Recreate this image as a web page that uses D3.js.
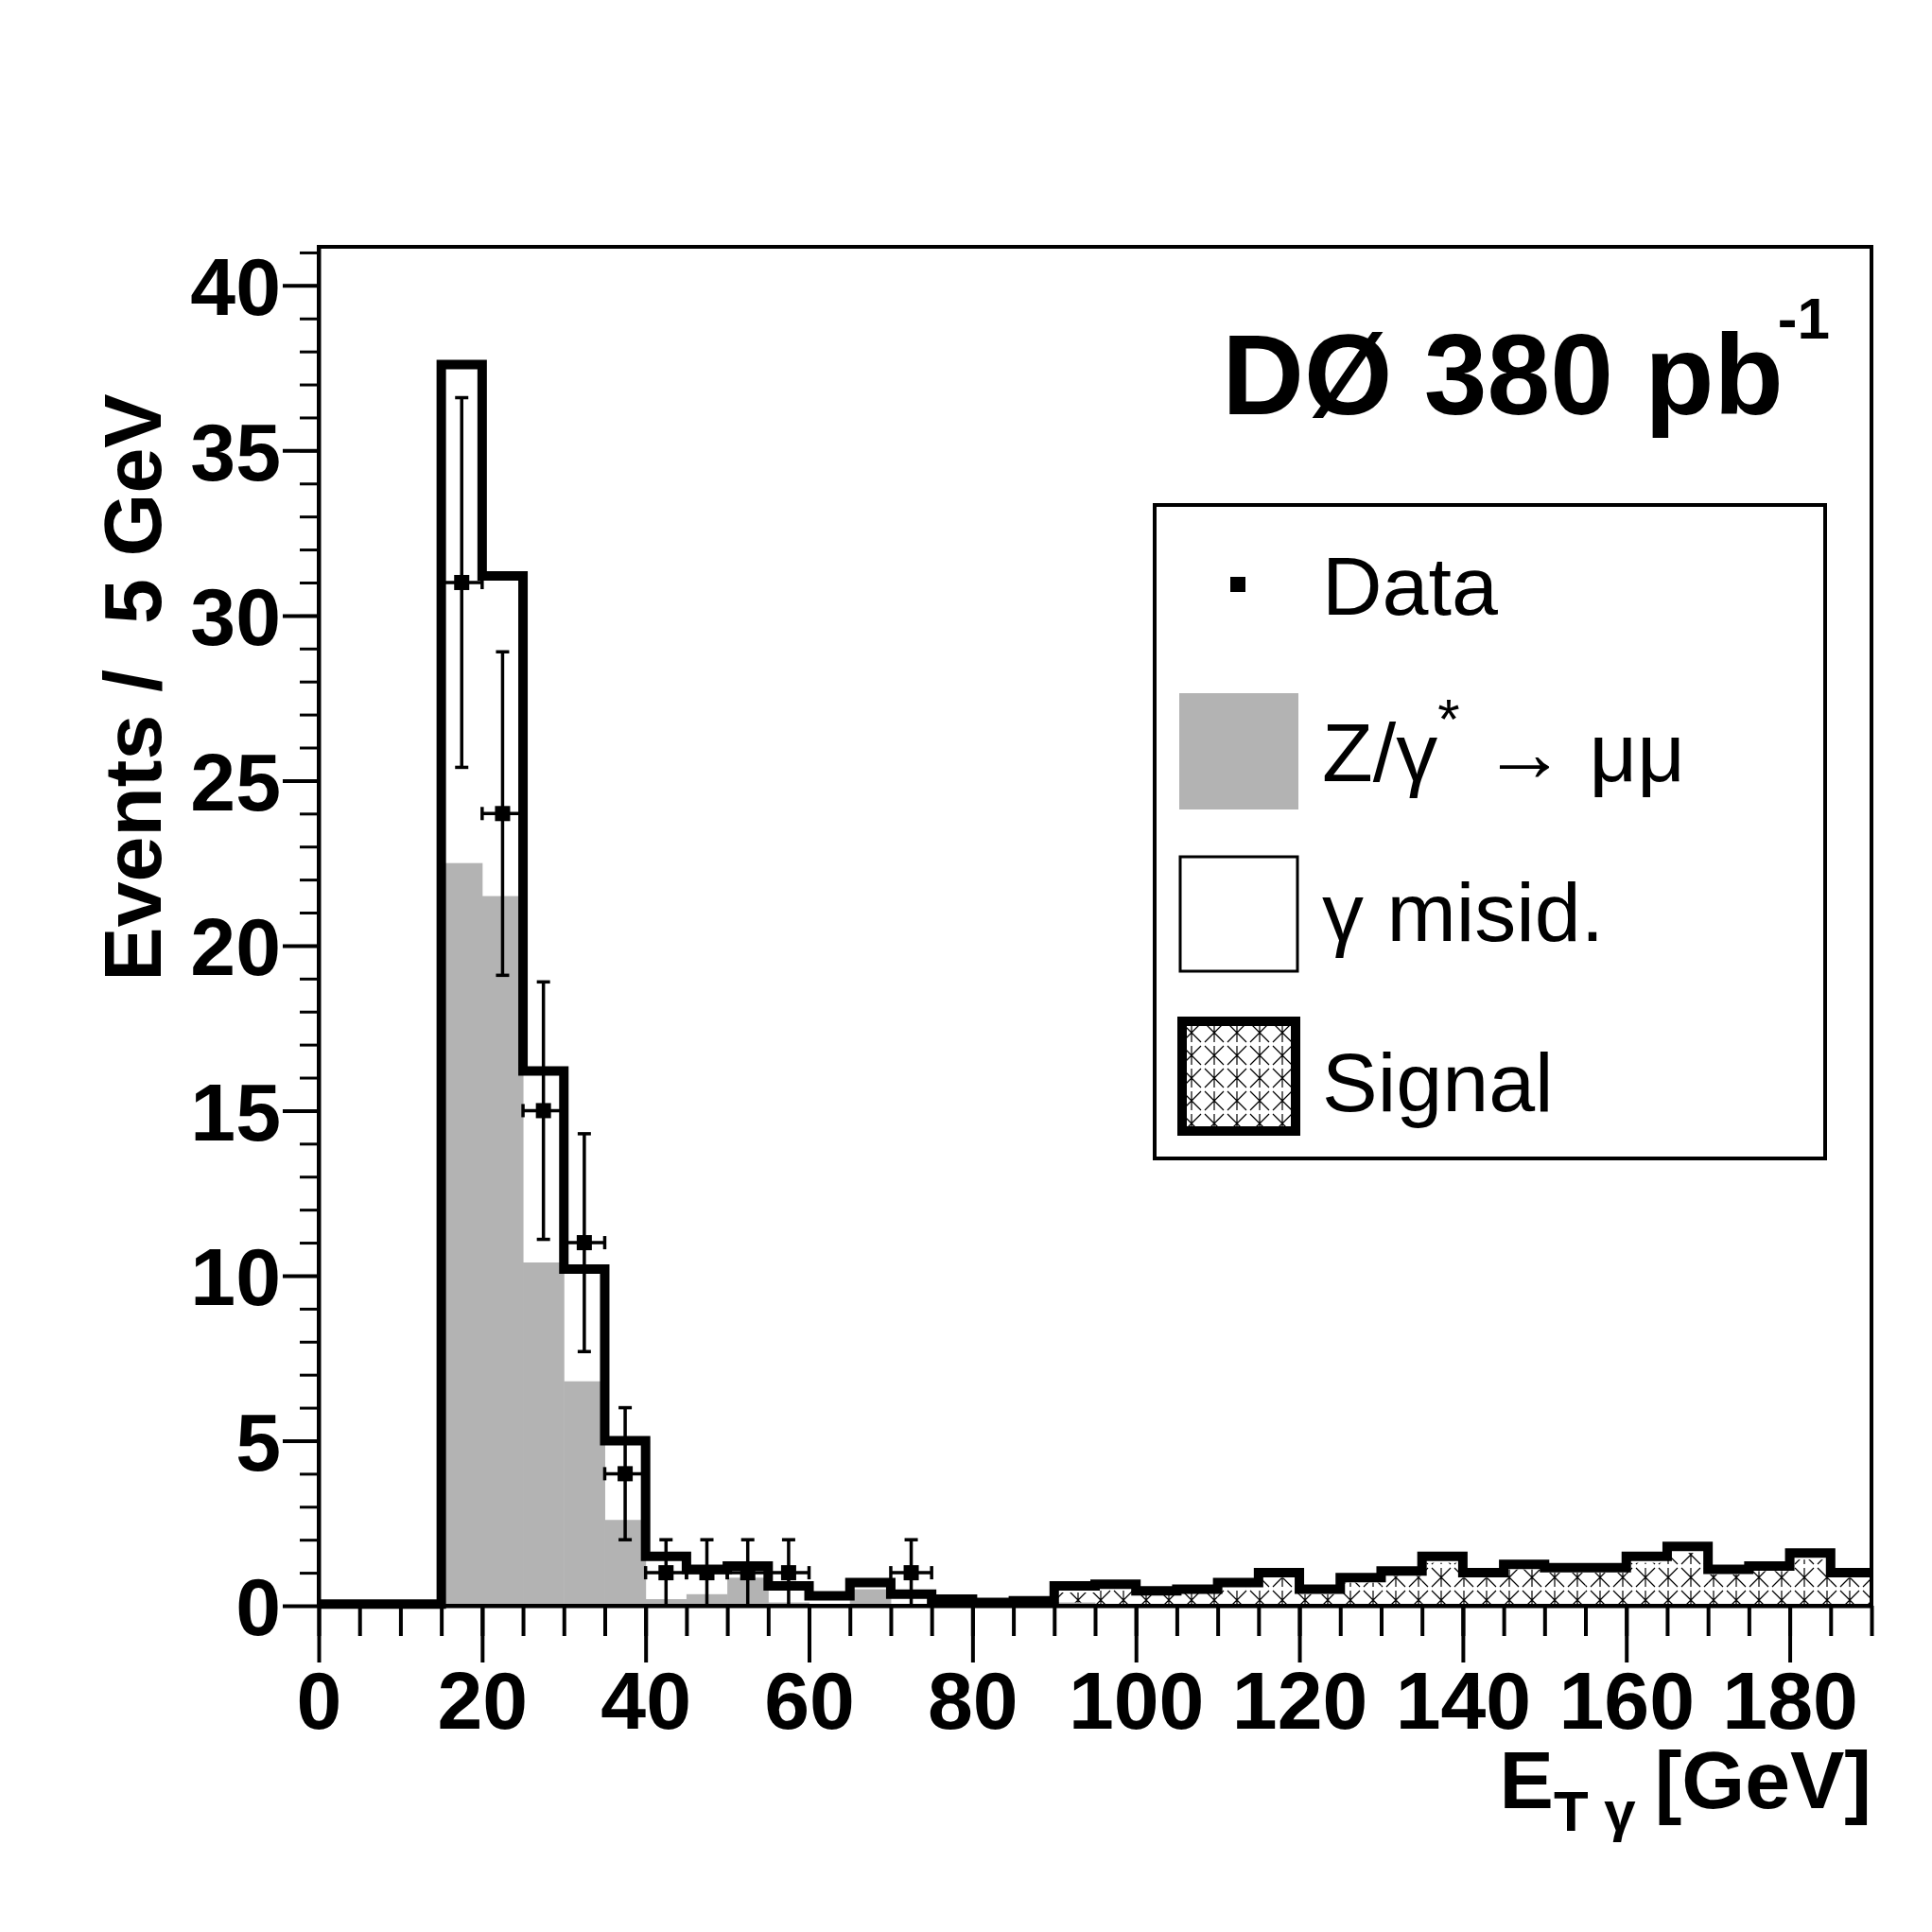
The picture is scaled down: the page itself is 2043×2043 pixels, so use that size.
<!DOCTYPE html>
<html><head><meta charset="utf-8">
<script src="https://cdn.jsdelivr.net/npm/d3@7"></script>
<style>body{margin:0;background:#fff}</style>
</head><body>
<script>
// Bin edges every 5 GeV from 0 to 190
const binLow = d3.range(0, 190, 5);
// Stack total (outline)
const total = [0.05,0.05,0.05,37.6,31.2,16.2,10.2,5.0,1.5,1.1,1.2,0.6,0.3,0.7,0.35,0.2,0.1,0.15,
  0.6,0.65,0.45,0.5,0.7,1.0,0.5,0.85,1.05,1.5,1.0,1.25,1.15,1.15,1.5,1.8,1.1,1.2,1.6,1.0];
// Z/gamma* -> mumu
const zmm = [0,0,0,22.5,21.5,10.4,6.8,2.6,0.2,0.35,0.85,0.1,0.05,0.5,0.05,0,0,0,
  0.1,0,0,0,0,0,0,0,0,0,0,0,0,0,0,0,0,0,0,0];
// signal part (hatched), rest is gamma misid
const signal = [0,0,0,0,0,0,0,0,0,0,0,0,0,0,0,0,0,0,
  0.4,0.55,0.35,0.4,0.55,0.85,0.35,0.7,0.9,1.3,0.85,1.1,1.0,1.0,1.3,1.6,0.95,1.05,1.4,0.85];
// Data points
const dataX = [17.5,22.5,27.5,32.5,37.5,42.5,47.5,52.5,57.5,72.5];
const dataY = [31,24,15,11,4,1,1,1,1,1];
const dataHi = [36.6,28.9,18.9,14.3,6.0,2.0,2.0,2.0,2.0,2.0];
const dataLo = [25.4,19.1,11.1,7.7,2.0,0,0,0,0,0];
const xTicks = d3.range(0, 181, 20);
const yTicks = d3.range(0, 41, 5);

const W = 2043, H = 2043;
const L = 337, R = 1979, T = 261, B = 1698;
const svg = d3.select('body').append('svg').attr('width', W).attr('height', H);
const x = d3.scaleLinear().domain([0, 190]).range([L, R]);
const y = d3.scaleLinear().domain([0, 41.17]).range([B, T]);
const font = 'Liberation Sans, Arial, sans-serif';

// hatch pattern for signal
const defs = svg.append('defs');
const pat = defs.append('pattern').attr('id', 'hatch').attr('patternUnits', 'userSpaceOnUse')
  .attr('width', 24).attr('height', 24);
pat.append('rect').attr('width', 24).attr('height', 24).attr('fill', '#fff');
pat.append('path').attr('d', 'M2,2 L22,22 M22,2 L2,22 M12,2 L12,22').attr('stroke', '#000').attr('stroke-width', 1.2);

const bins = binLow.map((b, i) => ({x0: b, x1: b + 5, t: total[i], z: zmm[i], s: signal[i]}));

// misid (white) fill under total
svg.append('g').selectAll('rect').data(bins).join('rect')
  .attr('x', d => x(d.x0)).attr('width', d => x(d.x1) - x(d.x0))
  .attr('y', d => y(d.t)).attr('height', d => y(0) - y(d.t)).attr('fill', '#fff');
// signal hatch
svg.append('g').selectAll('rect').data(bins.filter(d => d.s > 0)).join('rect')
  .attr('x', d => x(d.x0)).attr('width', d => x(d.x1) - x(d.x0))
  .attr('y', d => y(d.s)).attr('height', d => y(0) - y(d.s)).attr('fill', 'url(#hatch)');
// Z gray
svg.append('g').selectAll('rect').data(bins.filter(d => d.z > 0)).join('rect')
  .attr('x', d => x(d.x0)).attr('width', d => x(d.x1) - x(d.x0) + 0.5)
  .attr('y', d => y(d.z)).attr('height', d => y(0) - y(d.z)).attr('fill', '#b3b3b3');

// total outline (step)
let pts = [[x(0), y(total[0])]];
bins.forEach(d => { pts.push([x(d.x0), y(d.t)]); pts.push([x(d.x1), y(d.t)]); });
svg.append('path').attr('d', d3.line()(pts)).attr('fill', 'none')
  .attr('stroke', '#000').attr('stroke-width', 10).attr('stroke-linejoin', 'miter');
// thin edge at 15 GeV
svg.append('line').attr('x1', x(15)).attr('x2', x(15)).attr('y1', y(0)).attr('y2', y(total[3]))
  .attr('stroke', '#000').attr('stroke-width', 4);

// data points
const g = svg.append('g');
dataX.forEach((dx, i) => {
  g.append('line').attr('x1', x(dx)).attr('x2', x(dx)).attr('y1', y(dataLo[i])).attr('y2', y(dataHi[i]))
    .attr('stroke', '#000').attr('stroke-width', 3.5);
  g.append('line').attr('x1', x(dx) - 7).attr('x2', x(dx) + 7).attr('y1', y(dataHi[i])).attr('y2', y(dataHi[i]))
    .attr('stroke', '#000').attr('stroke-width', 3.5);
  if (dataLo[i] > 0) g.append('line').attr('x1', x(dx) - 7).attr('x2', x(dx) + 7).attr('y1', y(dataLo[i])).attr('y2', y(dataLo[i]))
    .attr('stroke', '#000').attr('stroke-width', 3.5);
  g.append('line').attr('x1', x(dx - 2.5)).attr('x2', x(dx + 2.5)).attr('y1', y(dataY[i])).attr('y2', y(dataY[i]))
    .attr('stroke', '#000').attr('stroke-width', 3.5);
  [dx - 2.5, dx + 2.5].forEach(e => g.append('line').attr('x1', x(e)).attr('x2', x(e))
    .attr('y1', y(dataY[i]) - 7).attr('y2', y(dataY[i]) + 7).attr('stroke', '#000').attr('stroke-width', 3.5));
  g.append('rect').attr('x', x(dx) - 8).attr('y', y(dataY[i]) - 8).attr('width', 16).attr('height', 16).attr('fill', '#000');
});

// frame
svg.append('rect').attr('x', L).attr('y', T).attr('width', R - L).attr('height', B - T)
  .attr('fill', 'none').attr('stroke', '#000').attr('stroke-width', 4);

// axes
const xAxis = svg.append('g').attr('transform', `translate(0,${B})`)
  .call(d3.axisBottom(x).tickValues(xTicks).tickSize(60).tickSizeOuter(0).tickPadding(8));
xAxis.selectAll('line').attr('stroke-width', 4);
xAxis.select('.domain').attr('stroke-width', 4);
xAxis.selectAll('text').attr('font-family', font).attr('font-weight', 'bold').attr('font-size', 86).attr('dy', '0.72em');
svg.append('g').attr('transform', `translate(0,${B})`)
  .call(d3.axisBottom(x).tickValues(d3.range(0, 191, 5)).tickSize(32).tickFormat(''))
  .call(s => s.select('.domain').remove()).selectAll('line').attr('stroke-width', 4);

const yAxis = svg.append('g').attr('transform', `translate(${L},0)`)
  .call(d3.axisLeft(y).tickValues(yTicks).tickSize(38).tickSizeOuter(0).tickPadding(2));
yAxis.selectAll('line').attr('stroke-width', 4);
yAxis.select('.domain').attr('stroke-width', 4);
yAxis.selectAll('text').attr('font-family', font).attr('font-weight', 'bold').attr('font-size', 86).attr('dy', '0.36em');
svg.append('g').attr('transform', `translate(${L},0)`)
  .call(d3.axisLeft(y).tickValues(d3.range(0, 42, 1)).tickSize(20).tickFormat(''))
  .call(s => s.select('.domain').remove()).selectAll('line').attr('stroke-width', 3);

// axis titles
svg.append('text').attr('transform', `translate(170,727) rotate(-90)`)
  .attr('font-family', font).attr('font-weight', 'bold').attr('font-size', 86)
  .attr('text-anchor', 'middle').attr('xml:space', 'preserve').text('Events /  5 GeV');
const xt = svg.append('text').attr('x', R).attr('y', 1912).attr('text-anchor', 'end')
  .attr('font-family', font).attr('font-weight', 'bold').attr('font-size', 86);
xt.append('tspan').text('E');
xt.append('tspan').attr('font-size', 60).attr('dy', 24).text('T γ');
xt.append('tspan').attr('dy', -24).attr('dx', 20).text('[GeV]');

// experiment label
const lab = svg.append('text').attr('x', 1935).attr('y', 438).attr('text-anchor', 'end')
  .attr('font-family', font).attr('font-weight', 'bold').attr('font-size', 120);
lab.append('tspan').text('DØ 380 pb');
lab.append('tspan').attr('font-size', 62).attr('dy', -80).attr('dx', -6).text('-1');

// legend
svg.append('rect').attr('x', 1221).attr('y', 534).attr('width', 709).attr('height', 691)
  .attr('fill', '#fff').attr('stroke', '#000').attr('stroke-width', 4);
const lt = (yy, t) => svg.append('text').attr('x', 1398).attr('y', yy).attr('font-family', font)
  .attr('font-size', 88).text(t);
svg.append('rect').attr('x', 1301).attr('y', 610).attr('width', 16).attr('height', 16).attr('fill', '#000');
lt(650, 'Data');
svg.append('rect').attr('x', 1247).attr('y', 733).attr('width', 126).attr('height', 123).attr('fill', '#b3b3b3');
const zt = lt(826, 'Z/γ');
zt.append('tspan').attr('font-size', 60).attr('dy', -45).text('*');
zt.append('tspan').attr('dy', 45).text(' → μμ');
svg.append('rect').attr('x', 1248).attr('y', 906).attr('width', 124).attr('height', 121)
  .attr('fill', '#fff').attr('stroke', '#000').attr('stroke-width', 3);
lt(995, 'γ misid.');
svg.append('rect').attr('x', 1250).attr('y', 1080).attr('width', 120).attr('height', 116)
  .attr('fill', 'url(#hatch)').attr('stroke', '#000').attr('stroke-width', 10);
lt(1175, 'Signal');
</script>
</body></html>
